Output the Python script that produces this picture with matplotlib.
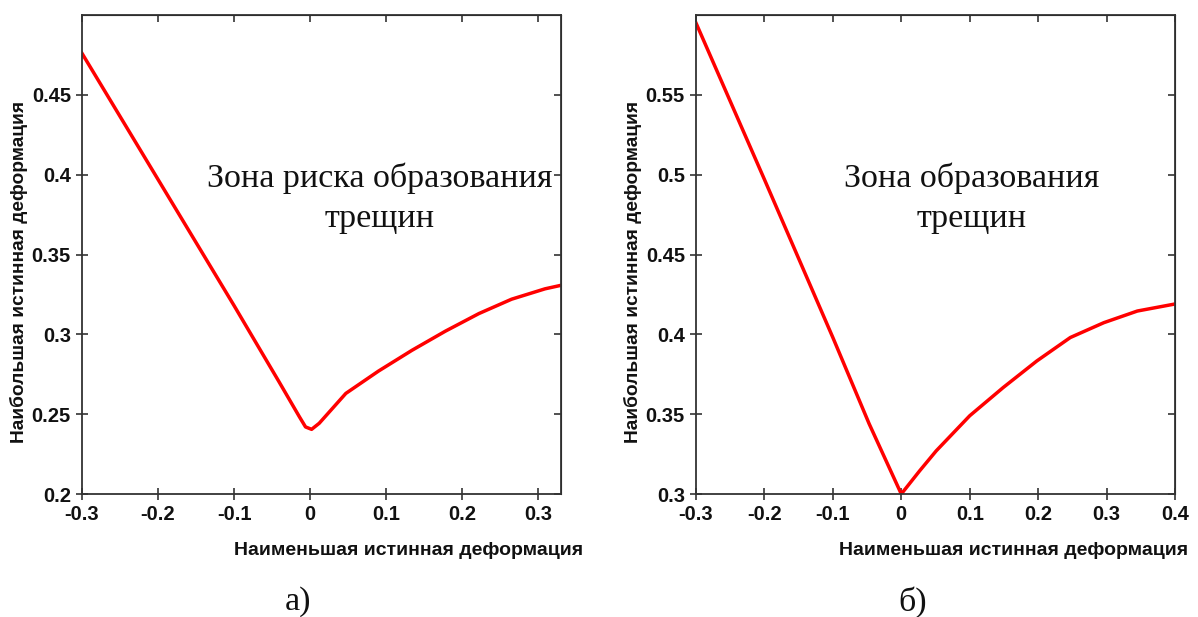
import matplotlib
matplotlib.use('Agg')
import matplotlib.pyplot as plt

# --- data ---
left_x = [-0.30, -0.20, -0.10, -0.041, -0.014, -0.006, 0.002, 0.012,
          0.047, 0.090, 0.134, 0.178, 0.222, 0.265, 0.309, 0.329]
left_y = [0.476, 0.397, 0.318, 0.2704, 0.2483, 0.242, 0.2405, 0.2443,
          0.263, 0.277, 0.290, 0.302, 0.313, 0.322, 0.3285, 0.3306]

right_x = [-0.30, -0.20, -0.10, -0.047, 0.0, 0.027, 0.051, 0.100,
           0.149, 0.198, 0.247, 0.296, 0.345, 0.40]
right_y = [0.595, 0.497, 0.398, 0.344, 0.300, 0.3146, 0.327, 0.349,
           0.3667, 0.3833, 0.398, 0.4073, 0.4146, 0.419]

left_xticks = [-0.3, -0.2, -0.1, 0, 0.1, 0.2, 0.3]
left_xticklabels = ['-0.3', '-0.2', '-0.1', '0', '0.1', '0.2', '0.3']
left_yticks = [0.2, 0.25, 0.3, 0.35, 0.4, 0.45]
left_yticklabels = ['0.2', '0.25', '0.3', '0.35', '0.4', '0.45']

right_xticks = [-0.3, -0.2, -0.1, 0, 0.1, 0.2, 0.3, 0.4]
right_xticklabels = ['-0.3', '-0.2', '-0.1', '0', '0.1', '0.2', '0.3', '0.4']
right_yticks = [0.3, 0.35, 0.4, 0.45, 0.5, 0.55]
right_yticklabels = ['0.3', '0.35', '0.4', '0.45', '0.5', '0.55']

xlabel = 'Наименьшая истинная деформация'
ylabel = 'Наибольшая истинная деформация'
left_note = 'Зона риска образования\nтрещин'
right_note = 'Зона образования\nтрещин'

W, H = 1198, 617
fig = plt.figure(figsize=(W / 100, H / 100), dpi=100)

sans = 'Liberation Sans'
serif = 'Liberation Serif'
spine_col = '#333333'


def make_panel(left_px, x, y, xlim, ylim, xt, xtl, yt, ytl, note, note_x, xlab_x):
    ax = fig.add_axes([left_px / W, (H - 494) / H, 479 / W, 479 / H])
    ax.plot(x, y, color='#ff0000', lw=2.5, solid_joinstyle='round')
    ax.set_xlim(*xlim)
    ax.set_ylim(*ylim)
    ax.set_xticks(xt)
    ax.set_xticklabels(xtl, fontfamily=sans, fontweight='bold', fontsize=14.5)
    ax.set_yticks(yt)
    ax.set_yticklabels(ytl, fontfamily=sans, fontweight='bold', fontsize=14.5)
    ax.tick_params(direction='inout', length=8, width=1.2, color=spine_col,
                   labelcolor='#111111', pad=4)
    for s in ax.spines.values():
        s.set_color(spine_col)
        s.set_linewidth(1.3)

    # top / right ticks pointing inward, no labels
    top = ax.secondary_xaxis('top')
    top.set_xticks(xt)
    top.tick_params(direction='in', length=5, width=1.2, color=spine_col, labeltop=False)
    rgt = ax.secondary_yaxis('right')
    rgt.set_yticks(yt)
    rgt.tick_params(direction='in', length=5, width=1.2, color=spine_col, labelright=False)

    ax.set_xlabel(xlabel, fontfamily=sans, fontweight='bold', fontsize=14,
                  color='#111111', ha='right')
    ax.xaxis.set_label_coords(xlab_x, -0.10)
    ax.set_ylabel(ylabel, fontfamily=sans, fontweight='bold', fontsize=13.8,
                  color='#111111')
    ax.yaxis.set_label_coords(-0.113, 0.463)

    ax.text(note_x, 0.618, note, transform=ax.transAxes, ha='center', va='center',
            fontfamily=serif, fontsize=24.5, linespacing=1.4, color='#111111')
    return ax


make_panel(82, left_x, left_y, (-0.3, 0.33), (0.2, 0.5),
           left_xticks, left_xticklabels, left_yticks, left_yticklabels,
           left_note, 0.622, 1.046)
make_panel(696, right_x, right_y, (-0.3, 0.4), (0.3, 0.6),
           right_xticks, right_xticklabels, right_yticks, right_yticklabels,
           right_note, 0.576, 1.027)

fig.text(298 / W, 1 - 602 / H, 'а)', ha='center', va='center',
         fontfamily=serif, fontsize=24.5, color='#111111')
fig.text(913 / W, 1 - 602 / H, 'б)', ha='center', va='center',
         fontfamily=serif, fontsize=24.5, color='#111111')

fig.savefig('out.png', dpi=100)
